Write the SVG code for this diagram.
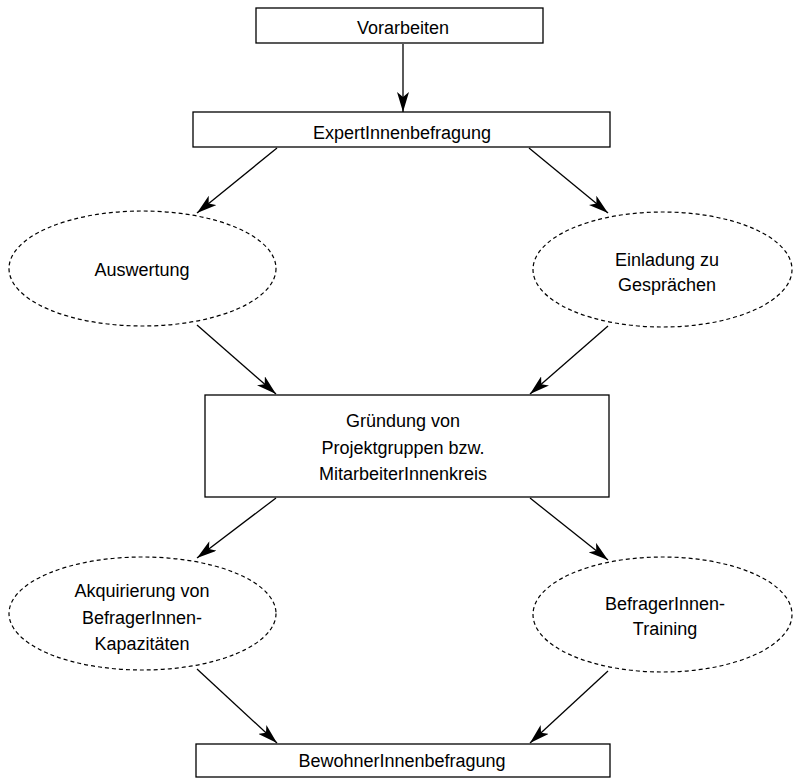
<svg xmlns="http://www.w3.org/2000/svg" width="793" height="778" viewBox="0 0 793 778">
<style>
.box{fill:#fff;stroke:#000;stroke-width:1.3}
.ell{fill:#fff;stroke:#000;stroke-width:1.2;stroke-dasharray:4 3}
.lbl{font-family:"Liberation Sans",Arial,sans-serif;font-size:18px;fill:#000;text-anchor:middle}
.con{stroke:#000;stroke-width:1.3;fill:none;marker-end:url(#ah)}
</style>
<defs>
<marker id="ah" markerUnits="userSpaceOnUse" markerWidth="20" markerHeight="12" refX="20" refY="6" orient="auto" viewBox="0 0 20 12">
<path d="M0,0 L20,6 L0,12 L5,6 z" fill="#000"/>
</marker>
</defs>
<rect width="793" height="778" fill="#fff"/>
<g id="connectors">
<line class="con" x1="403" y1="44" x2="403" y2="112"/>
<line class="con" x1="277" y1="148" x2="197" y2="213"/>
<line class="con" x1="529" y1="148" x2="608" y2="213"/>
<line class="con" x1="197" y1="325" x2="276" y2="394"/>
<line class="con" x1="608" y1="326" x2="530" y2="394"/>
<line class="con" x1="276" y1="498" x2="197" y2="558"/>
<line class="con" x1="530" y1="498" x2="608" y2="560"/>
<line class="con" x1="197" y1="669" x2="277" y2="743"/>
<line class="con" x1="608" y1="671" x2="530" y2="743"/>
</g>
<g id="vorarbeiten">
<rect class="box" x="256" y="8" width="287" height="35"/>
<text class="lbl" x="403" y="34">Vorarbeiten</text>
</g>
<g id="expertinnenbefragung">
<rect class="box" x="193" y="112" width="417" height="35"/>
<text class="lbl" x="402" y="139">ExpertInnenbefragung</text>
</g>
<g id="auswertung">
<ellipse class="ell" cx="142.5" cy="268.5" rx="133.5" ry="57.5"/>
<text class="lbl" x="142" y="276">Auswertung</text>
</g>
<g id="einladung">
<ellipse class="ell" cx="662.5" cy="269.5" rx="129.5" ry="57.5"/>
<text class="lbl" x="667" y="266">Einladung zu</text>
<text class="lbl" x="667" y="291">Gesprächen</text>
</g>
<g id="gruendung">
<rect class="box" x="205" y="395" width="404" height="102"/>
<text class="lbl" x="403" y="427">Gründung von</text>
<text class="lbl" x="403" y="454">Projektgruppen bzw.</text>
<text class="lbl" x="403" y="480">MitarbeiterInnenkreis</text>
</g>
<g id="akquirierung">
<ellipse class="ell" cx="142.5" cy="613.5" rx="133.5" ry="56.5"/>
<text class="lbl" x="142" y="597">Akquirierung von</text>
<text class="lbl" x="142" y="624">BefragerInnen-</text>
<text class="lbl" x="142" y="650">Kapazitäten</text>
</g>
<g id="training">
<ellipse class="ell" cx="662.5" cy="614.5" rx="129.5" ry="57.5"/>
<text class="lbl" x="665" y="610">BefragerInnen-</text>
<text class="lbl" x="665" y="635">Training</text>
</g>
<g id="bewohnerinnenbefragung">
<rect class="box" x="196" y="744" width="414" height="33"/>
<text class="lbl" x="402" y="767">BewohnerInnenbefragung</text>
</g>
</svg>
